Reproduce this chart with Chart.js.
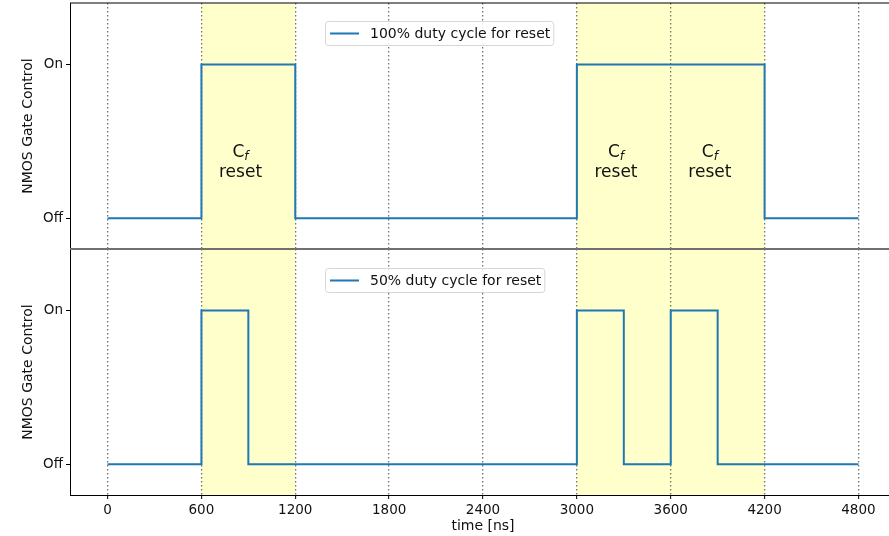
<!DOCTYPE html>
<html>
<head>
<meta charset="utf-8">
<script src="https://cdn.jsdelivr.net/npm/chart.js@4.4.1/dist/chart.umd.min.js"></script>
<style>
  html, body { margin: 0; padding: 0; background: #fff; overflow: hidden; }
  #wrap { position: relative; width: 889px; height: 536px; overflow: hidden; }
  #wrap canvas { position: absolute; left: 0; }
  #top-chart { top: 0; }
  #bottom-chart { top: 247px; }
</style>
</head>
<body>
<div id="wrap">
  <canvas id="top-chart" width="900" height="250"></canvas>
  <canvas id="bottom-chart" width="900" height="289"></canvas>
</div>
<script>
// Switching edges (ns) and the gate state held after each edge (0 = Off, 1 = On)
const fullTimes = [0, 600, 1200, 3000, 4200, 4800];
const fullStates = [0, 1, 0, 1, 0, 0];
const halfTimes = [0, 600, 900, 3000, 3300, 3600, 3900, 4800];
const halfStates = [0, 1, 0, 1, 0, 1, 0, 0];

const timeTicks = [0, 600, 1200, 1800, 2400, 3000, 3600, 4200, 4800];
const stateLabels = ['Off', 'On'];

// C_f reset windows (shaded) and where the "C_f reset" notes sit
const resetWindows = [[600, 1200], [3000, 4200]];
const resetNoteTimes = [850, 3250, 3850];

const FONT = "'DejaVu Sans', sans-serif";
const BLUE = '#1f77b4';
const TEXT = '#111';

function toPoints(times, states) {
    return times.map((t, i) => ({ x: t, y: states[i] }));
}

// yellow bands behind grid and trace
const shadePlugin = {
    id: 'shade',
    beforeDraw(chart) {
        const { ctx, chartArea, scales } = chart;
        ctx.save();
        ctx.fillStyle = '#ffffcc';
        resetWindows.forEach(([a, b]) => {
            const x0 = scales.x.getPixelForValue(a);
            const x1 = scales.x.getPixelForValue(b);
            ctx.fillRect(x0, chartArea.top, x1 - x0, chartArea.bottom - chartArea.top);
        });
        ctx.restore();
    }
};

// "C_f / reset" notes inside the shaded windows
const notePlugin = {
    id: 'notes',
    afterDatasetsDraw(chart, args, opts) {
        if (!opts.show) return;
        const { ctx, scales } = chart;
        const yBase = scales.y.getPixelForValue(0.4);
        ctx.save();
        ctx.fillStyle = TEXT;
        ctx.textBaseline = 'alphabetic';
        resetNoteTimes.forEach(t => {
            const cx = scales.x.getPixelForValue(t);
            ctx.font = `17px ${FONT}`;
            const wC = ctx.measureText('C').width;
            ctx.font = `italic 12px ${FONT}`;
            const wf = ctx.measureText('f').width;
            const start = cx - (wC + wf) / 2;
            ctx.font = `17px ${FONT}`;
            ctx.textAlign = 'left';
            ctx.fillText('C', start, yBase);
            ctx.font = `italic 12px ${FONT}`;
            ctx.fillText('f', start + wC, yBase + 3);
            ctx.font = `17px ${FONT}`;
            ctx.textAlign = 'center';
            ctx.fillText('reset', cx, yBase + 20);
        });
        ctx.restore();
    }
};

// framed legend box plus the top spine / panel separator
const framePlugin = {
    id: 'frame',
    afterDraw(chart, args, opts) {
        const { ctx, chartArea } = chart;
        ctx.save();
        ctx.beginPath();
        ctx.moveTo(chartArea.left, chartArea.top);
        ctx.lineTo(chartArea.right, chartArea.top);
        ctx.strokeStyle = opts.topColor;
        ctx.lineWidth = opts.topWidth;
        ctx.stroke();

        const left = chartArea.left + 255;
        const top = chartArea.top + opts.legendTop;
        ctx.font = `14px ${FONT}`;
        const tw = ctx.measureText(opts.label).width;
        const w = 45 + tw + 3;
        const h = 24;
        ctx.beginPath();
        ctx.roundRect(left + 0.5, top + 0.5, w, h, 3);
        ctx.fillStyle = 'rgba(255,255,255,0.85)';
        ctx.fill();
        ctx.strokeStyle = '#d6d6d6';
        ctx.lineWidth = 1;
        ctx.stroke();

        const cy = top + h / 2 + 0.5;
        ctx.beginPath();
        ctx.moveTo(left + 5, cy);
        ctx.lineTo(left + 34, cy);
        ctx.strokeStyle = BLUE;
        ctx.lineWidth = 2;
        ctx.stroke();

        ctx.fillStyle = TEXT;
        ctx.textAlign = 'left';
        ctx.textBaseline = 'middle';
        ctx.fillText(opts.label, left + 45, cy + 1);
        ctx.restore();
    }
};

function makePanel(canvasId, points, label, isBottom) {
    return new Chart(document.getElementById(canvasId), {
        type: 'line',
        data: {
            datasets: [{
                label: label,
                data: points,
                stepped: true,
                borderColor: BLUE,
                borderWidth: 2,
                pointRadius: 0,
                fill: false
            }]
        },
        plugins: [shadePlugin, notePlugin, framePlugin],
        options: {
            responsive: false,
            animation: false,
            events: [],
            layout: {
                autoPadding: false,
                padding: { top: isBottom ? 2 : 3, right: 4, bottom: isBottom ? 0 : 1, left: 0 }
            },
            plugins: {
                legend: { display: false },
                tooltip: { enabled: false },
                notes: { show: !isBottom },
                frame: {
                    label: label,
                    legendTop: isBottom ? 19 : 18,
                    topColor: isBottom ? '#707070' : '#000',
                    topWidth: isBottom ? 2 : 1
                }
            },
            scales: {
                x: {
                    type: 'linear',
                    min: -240,
                    max: 5040,
                    afterBuildTicks: s => { s.ticks = timeTicks.map(v => ({ value: v })); },
                    afterFit: s => {
                        s.height = isBottom ? 41 : 0;
                        s.paddingLeft = 0;
                        s.paddingRight = 0;
                    },
                    border: { display: isBottom, color: '#000', width: 1, dash: [1.5, 2.5] },
                    grid: {
                        color: 'rgba(0,0,0,0.55)',
                        lineWidth: 1.3,
                        drawTicks: isBottom,
                        tickLength: 4,
                        tickColor: '#000',
                        tickWidth: 1,
                        tickBorderDash: []
                    },
                    ticks: {
                        display: isBottom,
                        color: TEXT,
                        font: { family: FONT, size: 13.5 },
                        padding: 3,
                        maxRotation: 0,
                        autoSkip: false,
                        callback: v => String(v)
                    },
                    title: {
                        display: isBottom,
                        text: 'time [ns]',
                        color: TEXT,
                        font: { family: FONT, size: 14 },
                        padding: { top: 0, bottom: 1 }
                    }
                },
                y: {
                    min: -0.2,
                    max: 1.4,
                    afterBuildTicks: s => { s.ticks = [{ value: 0 }, { value: 1 }]; },
                    afterFit: s => {
                        s.width = 70;
                        s.paddingTop = 0;
                        s.paddingBottom = 0;
                    },
                    border: { color: '#000', width: 1 },
                    grid: {
                        drawOnChartArea: false,
                        drawTicks: true,
                        tickLength: 4,
                        tickColor: '#000'
                    },
                    ticks: {
                        color: TEXT,
                        font: { family: FONT, size: 13.5 },
                        padding: 3,
                        callback: v => stateLabels[v]
                    },
                    title: {
                        display: true,
                        text: 'NMOS Gate Control',
                        color: TEXT,
                        font: { family: FONT, size: 14 },
                        padding: { top: 20, bottom: 0 }
                    }
                }
            }
        }
    });
}

makePanel('top-chart', toPoints(fullTimes, fullStates), '100% duty cycle for reset', false);
makePanel('bottom-chart', toPoints(halfTimes, halfStates), '50% duty cycle for reset', true);
</script>
</body>
</html>
